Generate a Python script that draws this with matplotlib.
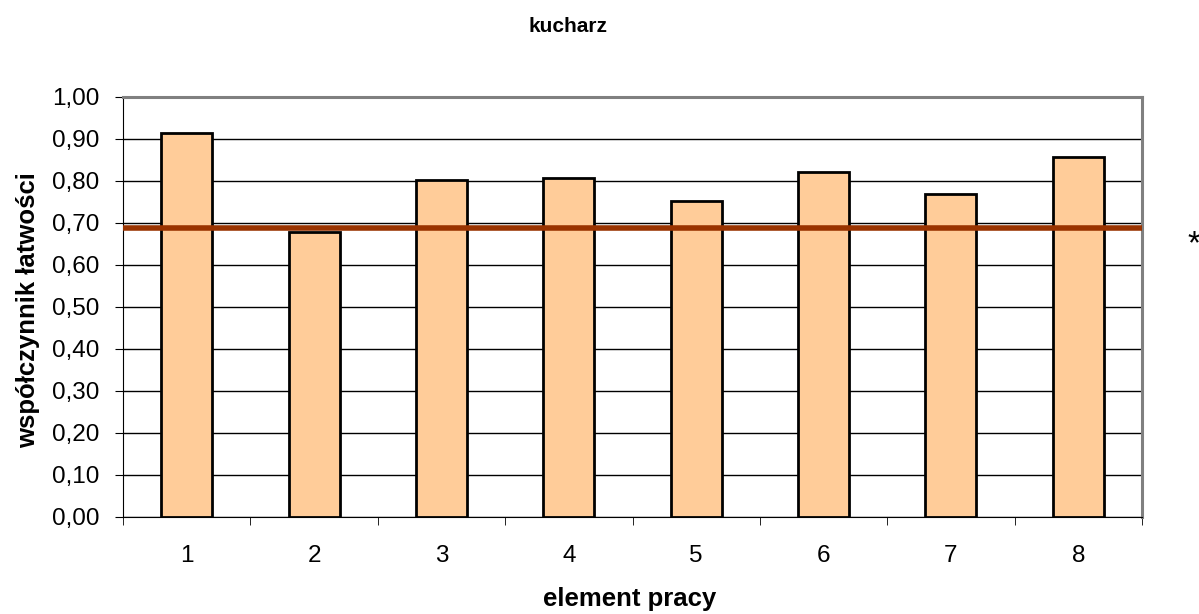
import matplotlib.pyplot as plt
import numpy as np
from matplotlib.ticker import FixedLocator, FuncFormatter

plt.rcParams["font.family"] = ["Liberation Sans", "DejaVu Sans"]

elements = ["1", "2", "3", "4", "5", "6", "7", "8"]
latwosc = [0.914, 0.679, 0.802, 0.807, 0.752, 0.821, 0.769, 0.857]
prog = 0.688  # line across the plot

W, H = 1199, 614
fig = plt.figure(figsize=(W / 100, H / 100), dpi=100)
ax = fig.add_axes([123 / W, 1 - 517 / H, (1142 - 123) / W, (517 - 97) / H])

x = np.arange(len(elements))
ax.bar(x, latwosc, width=0.4, color="#FFCC99", edgecolor="black", linewidth=2, zorder=3)
ax.axhline(prog, color="#993300", linewidth=4, zorder=4)

ax.set_xlim(-0.5, len(elements) - 0.5)
ax.set_ylim(0, 1)
ax.set_yticks(np.arange(0, 1.01, 0.1))
ax.yaxis.set_major_formatter(FuncFormatter(lambda v, _: f"{v:.2f}".replace(".", ",")))
ax.yaxis.grid(True, color="black", linewidth=1, zorder=0)

ax.set_xticks(x)
ax.set_xticklabels(elements)
ax.xaxis.set_minor_locator(FixedLocator(np.arange(-0.5, len(elements), 1)))
ax.tick_params(axis="x", which="major", length=0, pad=20, labelsize=17.5)
ax.tick_params(axis="x", which="minor", length=6, direction="out", color="black")
ax.tick_params(axis="y", length=6, direction="out", pad=11, labelsize=17.5, color="black")

for s in ("top", "right"):
    ax.spines[s].set_color("#808080")
    ax.spines[s].set_linewidth(2.2)
ax.spines["left"].set_color("black")
ax.spines["bottom"].set_color("black")

fig.text(630 / W, 1 - 606 / H, "element pracy", fontsize=18.5, fontweight="bold",
         ha="center", va="baseline")
fig.text(28 / W, 1 - 310 / H, "współczynnik łatwości", fontsize=18.5, fontweight="bold",
         rotation=90, ha="center", va="center")

fig.text(568 / W, 1 - 27 / H, "kucharz", fontsize=15, fontweight="bold",
         ha="center", va="center")
fig.text(1194 / W, 1 - 253 / H, "*", fontsize=24, ha="center", va="baseline")

fig.savefig("out.png", dpi=100)
